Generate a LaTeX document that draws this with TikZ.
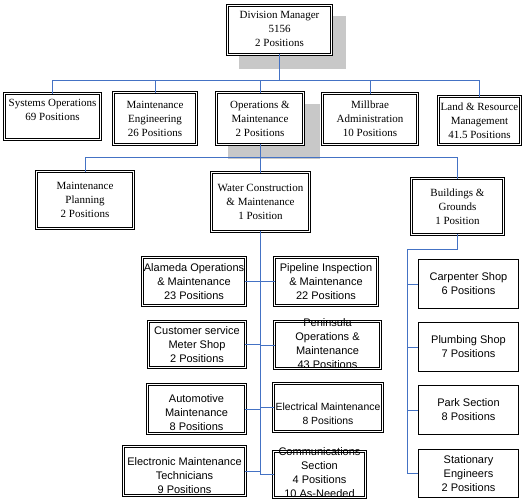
\documentclass[tikz,border=0pt]{standalone}
\usepackage{fontspec}
\setmainfont{Liberation Serif}
\setsansfont{Liberation Sans}
\definecolor{connblue}{RGB}{68,114,196}
\definecolor{shadowgray}{RGB}{200,200,200}
\newcommand\obox[9]{%
  \node[#1, minimum width={#6-#4-\bw}, minimum height={#7-#5-\bw}] (#3) at ({(#4+#6)/2},{(#5+#7)/2}) {};
  \node[#2] (#3-t) at ({(#4+#6)/2},{(#5+#7)/2+#8}) {#9};}
\begin{document}
\begin{tikzpicture}[x=1pt,y=-1pt,
  dbox/.style={draw=black, line width=0.8pt, double=white, double distance=1.5pt, fill=white, inner sep=0pt, outer sep=0pt},
  sbox/.style={draw=black, line width=0.9pt, fill=white, inner sep=0pt, outer sep=0pt},
  tser/.style={font=\fontsize{11}{14}\selectfont, align=center, inner sep=0pt},
  tsan/.style={font=\sffamily\fontsize{11}{14}\selectfont, align=center, inner sep=0pt},
  tsannarrow/.style={font=\sffamily\fontsize{10.4}{14}\selectfont, align=center, inner sep=0pt},
  conn/.style={draw=connblue, line width=0.9pt},
  boxshadow/.style={fill=shadowgray, draw=none}]
\fill[white] (0,0) rectangle (530,501);
\useasboundingbox (0,0) rectangle (530,501);
% shadows
\path[boxshadow] (239,16) rectangle (346,69);
\path[boxshadow] (228,104) rectangle (320,159);
\def\bw{3.1}
\obox{dbox}{tser}{dm}{226}{4}{333}{56}{-1}{Division Manager\\5156\\2 Positions}
\obox{dbox}{tser}{so}{3}{92}{102}{141}{-7}{Systems Operations\\69 Positions}
\obox{dbox}{tser}{me}{112}{91}{198}{146}{0}{Maintenance\\Engineering\\26 Positions}
\obox{dbox}{tser}{om}{215}{91}{305}{146}{0}{Operations \&\\Maintenance\\2 Positions}
\obox{dbox}{tser}{mb}{321}{92}{419}{146}{0}{Millbrae\\Administration\\10 Positions}
\obox{dbox}{tser}{lr}{437}{95}{522}{146}{0}{Land \& Resource\\Management\\41.5 Positions}
\obox{dbox}{tser}{mp}{35}{170}{135}{230}{0}{Maintenance\\Planning\\2 Positions}
\obox{dbox}{tser}{wc}{210}{171}{311}{233}{0}{Water Construction\\\& Maintenance\\1 Position}
\obox{dbox}{tser}{bg}{410}{177}{505}{236}{0}{Buildings \&\\Grounds\\1 Position}
\obox{dbox}{tsan}{al}{141}{256}{247}{307}{0}{Alameda Operations\\\& Maintenance\\23 Positions}
\obox{dbox}{tsan}{cu}{147}{320}{247}{369}{0}{Customer service\\Meter Shop\\2 Positions}
\obox{dbox}{tsan}{au}{146}{383}{247}{435}{4}{Automotive\\Maintenance\\8 Positions}
\obox{dbox}{tsan}{el}{122}{445}{247}{497}{5}{Electronic Maintenance\\Technicians\\9 Positions}
\obox{dbox}{tsan}{pi}{273}{256}{379}{307}{0}{Pipeline Inspection\\\& Maintenance\\22 Positions}
\obox{dbox}{tsan}{pe}{273}{320}{382}{370}{-1}{Peninsula\\Operations \&\\Maintenance\\43 Positions}
\obox{dbox}{tsannarrow}{ec}{272}{382}{384}{433}{6}{Electrical Maintenance\\8 Positions}
\obox{dbox}{tsan}{cm}{272}{450}{367}{499}{-2}{Communications\\Section\\4 Positions\\10 As-Needed}
\def\bw{0.9}
\obox{sbox}{tsan}{cp}{418}{259}{519}{309}{0}{Carpenter Shop\\6 Positions}
\obox{sbox}{tsan}{pl}{418}{322}{519}{372}{0}{Plumbing Shop\\7 Positions}
\obox{sbox}{tsan}{pk}{418}{385}{519}{435}{0}{Park Section\\8 Positions}
\obox{sbox}{tsan}{st}{418}{449}{519}{498}{0}{Stationary\\Engineers\\2 Positions}
% connectors
\coordinate (bus1) at (0,80);
\coordinate (bus2) at (0,157);
\coordinate (bgk) at (407,249);
\draw[conn] (dm.south) -- (dm.south |- bus1);
\draw[conn] (so.north) -- (so.north |- bus1) -- (lr.north |- bus1) -- (lr.north);
\foreach \n in {me,om,mb} \draw[conn] (\n.north |- bus1) -- (\n.north);
\draw[conn] (om.south) -- (om.south |- bus2);
\draw[conn] (mp.north) -- (mp.north |- bus2) -- (bg.north |- bus2) -- (bg.north);
\draw[conn] (wc.north |- bus2) -- (wc.north);
\draw[conn] (wc.south) -- (wc.south |- cm.west);
\foreach \n in {al,cu,au,el} \draw[conn] (\n.east) -- (\n.east -| wc.south);
\foreach \n in {pi,pe,ec,cm} \draw[conn] (\n.west) -- (\n.west -| wc.south);
\draw[conn] (bg.south) |- (bgk) -- (bgk |- st.west) -- (st.west);
\foreach \n in {cp,pl,pk} \draw[conn] (\n.west -| bgk) -- (\n.west);
\end{tikzpicture}
\end{document}
